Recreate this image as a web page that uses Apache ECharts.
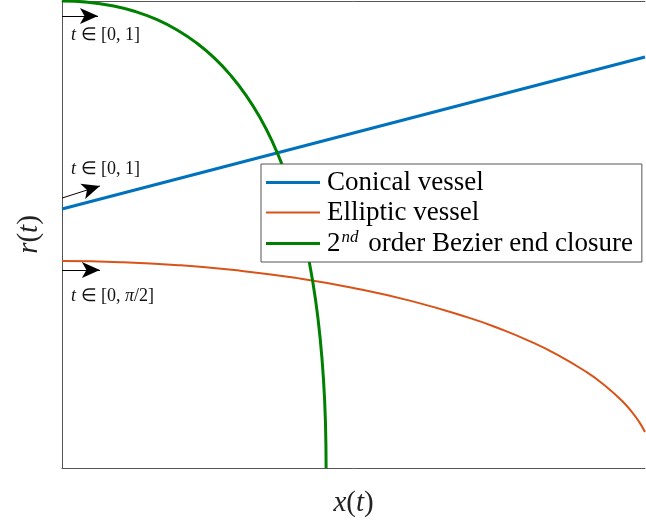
<!DOCTYPE html>
<html>
<head>
<meta charset="utf-8">
<script src="https://cdn.jsdelivr.net/npm/echarts@6/dist/echarts.min.js"></script>
<style>
  html, body { margin: 0; padding: 0; background: #fff; }
  #chart { width: 646px; height: 523px; }
</style>
</head>
<body>
<div id="chart"></div>
<script>
// Conical vessel profile: straight line r(x)
const conicalX = [0, 1];
const conicalR = [0.5546, 0.880];

// Elliptic vessel profile, quarter ellipse
const ellipticX = [0, 0.1, 0.2, 0.3, 0.4, 0.5, 0.6, 0.7, 0.75, 0.8, 0.85, 0.9, 0.93, 0.96, 0.98, 0.99, 1.0];
const ellipticR = [0.443, 0.4408, 0.4343, 0.4232, 0.4072, 0.3856, 0.3574, 0.3209, 0.2987, 0.2729, 0.2424, 0.2052, 0.1779, 0.1444, 0.1161, 0.0987, 0.0771];

// Quadratic Bezier end closure, sampled along t in [0, 1]
const bezierX = [0, 0.0442, 0.0861, 0.1257, 0.1631, 0.1982, 0.2310, 0.2616, 0.2899, 0.3160, 0.3398, 0.3613, 0.3805, 0.3975, 0.4122, 0.4247, 0.4349, 0.4428, 0.4485, 0.4519, 0.453];
const bezierR = [1, 0.9975, 0.99, 0.9775, 0.96, 0.9375, 0.91, 0.8775, 0.84, 0.7975, 0.75, 0.6975, 0.64, 0.5775, 0.51, 0.4375, 0.36, 0.2775, 0.19, 0.0975, 0];

// Parameter-direction arrows: [x0, y0, x1, y1]
const arrowBezier = [0, 0.968, 0.0617, 0.968];
const arrowConical = [0, 0.578, 0.065, 0.604];
const arrowElliptic = [0, 0.424, 0.065, 0.424];

const seriesNames = ['Conical vessel', 'Elliptic vessel', '2nd order Bezier end closure'];

const zip = (xs, ys) => xs.map((x, i) => [x, ys[i]]);
const serif = 'Liberation Serif';

function arrowLine(a) {
  return {
    silent: true,
    symbol: ['none', 'arrow'],
    symbolSize: [12, 18],
    lineStyle: { color: '#000', width: 1, type: 'solid' },
    label: { show: false },
    emphasis: { disabled: true },
    data: [[{ coord: [a[0], a[1]] }, { coord: [a[2], a[3]] }]]
  };
}

// flat line swatches for the legend
const swatch = h => 'path://M0,0 L54,0 L54,' + h + ' L0,' + h + ' Z';

const chart = echarts.init(document.getElementById('chart'), null, { renderer: 'canvas' });

const richLabel = {
  i: { fontFamily: serif, fontStyle: 'italic', fontSize: 29, color: '#222' },
  n: { fontFamily: serif, fontSize: 29, color: '#222' }
};
const annRich = { i: { fontFamily: serif, fontStyle: 'italic', fontSize: 18, fill: '#111' } };

chart.setOption({
  animation: false,
  backgroundColor: '#fff',
  grid: { left: 62, right: 1, top: 1, bottom: 55, outerBoundsMode: 'none', containLabel: false },
  xAxis: [
    {
      type: 'value', min: 0, max: 1,
      axisLine: { show: true, lineStyle: { color: '#555', width: 1 } },
      axisTick: { show: false }, axisLabel: { show: false }, splitLine: { show: false },
      name: '{i|x}{n|(}{i|t}{n|)}', nameLocation: 'middle', nameGap: 21,
      nameTextStyle: { rich: richLabel }
    },
    {
      type: 'value', min: 0, max: 1, position: 'top',
      axisLine: { show: true, onZero: false, lineStyle: { color: '#555', width: 1 } },
      axisTick: { show: false }, axisLabel: { show: false }, splitLine: { show: false }
    }
  ],
  yAxis: {
    type: 'value', min: 0, max: 1,
    axisLine: { show: true, lineStyle: { color: '#555', width: 1 } },
    axisTick: { show: false }, axisLabel: { show: false }, splitLine: { show: false },
    name: '{i|r}{n|(}{i|t}{n|)}', nameLocation: 'middle', nameGap: 18, nameRotate: 90,
    nameTextStyle: { rich: richLabel }
  },
  legend: {
    orient: 'vertical',
    left: 261, top: 164,
    padding: [5, 9, 5, 5],
    itemGap: 3,
    itemWidth: 54,
    itemHeight: 27,
    backgroundColor: '#fff',
    borderColor: '#555',
    borderWidth: 1,
    borderRadius: 0,
    data: [
      { name: seriesNames[0], icon: swatch(3.2) },
      { name: seriesNames[1], icon: swatch(2.2) },
      { name: seriesNames[2], icon: swatch(3.2) }
    ],
    formatter: name => name === seriesNames[2] ? '2{sup|nd} order Bezier end closure' : name,
    textStyle: {
      fontFamily: serif, fontSize: 27, color: '#000', padding: [0, 0, 0, 2],
      rich: {
        sup: { fontFamily: serif, fontStyle: 'italic', fontSize: 17, color: '#000', verticalAlign: 'top', padding: [0, 3, 12, 1] }
      }
    }
  },
  series: [
    {
      name: seriesNames[0], type: 'line', data: zip(conicalX, conicalR),
      showSymbol: false, symbol: 'none',
      lineStyle: { color: '#0072BD', width: 3 }, itemStyle: { color: '#0072BD' },
      markLine: arrowLine(arrowConical)
    },
    {
      name: seriesNames[1], type: 'line', data: zip(ellipticX, ellipticR),
      showSymbol: false, symbol: 'none', smooth: true,
      lineStyle: { color: '#D95319', width: 2 }, itemStyle: { color: '#D95319' },
      markLine: arrowLine(arrowElliptic)
    },
    {
      name: seriesNames[2], type: 'line', data: zip(bezierX, bezierR),
      showSymbol: false, symbol: 'none', smooth: true,
      lineStyle: { color: '#008000', width: 3 }, itemStyle: { color: '#008000' },
      markLine: arrowLine(arrowBezier)
    }
  ],
  graphic: [
    { type: 'text', left: 71, top: 26, style: { text: '{i|t} ∈ [0, 1]', fontFamily: serif, fontSize: 18, fill: '#111', rich: annRich } },
    { type: 'text', left: 71, top: 160, style: { text: '{i|t} ∈ [0, 1]', fontFamily: serif, fontSize: 18, fill: '#111', rich: annRich } },
    { type: 'text', left: 71, top: 287, style: { text: '{i|t} ∈ [0, {i|π}/2]', fontFamily: serif, fontSize: 18, fill: '#111', rich: annRich } }
  ]
});
</script>
</body>
</html>
